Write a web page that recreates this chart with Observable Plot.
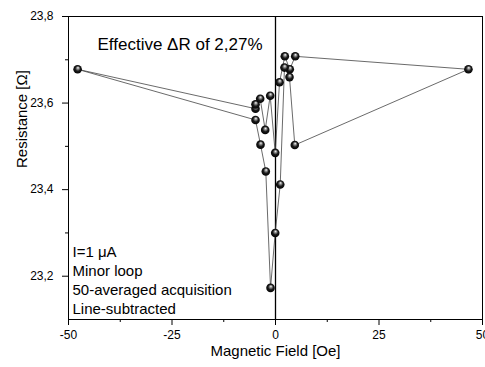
<!DOCTYPE html>
<html><head><meta charset="utf-8">
<script src="https://cdn.jsdelivr.net/npm/d3@7"></script>
<script src="https://cdn.jsdelivr.net/npm/@observablehq/plot@0.6"></script>
<style>
body{margin:0;background:#fff}
#chart svg{font-family:"Liberation Sans",Arial,sans-serif}
</style>
</head><body><div id="chart"></div>
<script>
// Loop order: upper branch from -H to +H, then lower branch back
const field = [-47.8, -4.83, -4.83, -3.7, -2.49, -1.28, -0.07, 0.97, 2.25, 3.45, 4.76, 46.6,
               4.66, 3.38, 2.17, 1.14, -0.07, -1.2, -2.34, -3.62, -4.83, -47.8];
const resistance = [23.678, 23.587, 23.597, 23.61, 23.538, 23.617, 23.485, 23.648, 23.708, 23.678, 23.708, 23.678,
                    23.503, 23.66, 23.682, 23.412, 23.30, 23.173, 23.442, 23.504, 23.561, 23.678];
const xTicks = [-50, -25, 0, 25, 50];
const xMinorTicks = [-37.5, -12.5, 12.5, 37.5];
const yTicks = [23.2, 23.4, 23.6, 23.8];
const yMinorTicks = [23.3, 23.5, 23.7];
const xLabel = "Magnetic Field [Oe]";
const yLabel = "Resistance [Ω]";
const headline = "Effective ΔR of 2,27%";
const noteLines = ["I=1 μA", "Minor loop", "50-averaged acquisition", "Line-subtracted"];

const data = field.map((x, i) => ({x, y: resistance[i]}));
const dots = data.slice(0, data.length - 1);

const chart = Plot.plot({
  width: 485, height: 367,
  marginLeft: 68, marginRight: 3, marginTop: 16, marginBottom: 48,
  x: {domain: [-50, 50]},
  y: {domain: [23.1, 23.8]},
  style: {fontFamily: '"Liberation Sans", Arial, sans-serif', fontSize: "12px", color: "#000", background: "#fff"},
  marks: [
    Plot.ruleX([0], {stroke: "#000", strokeWidth: 1.3}),
    Plot.line(data, {x: "x", y: "y", stroke: "#444", strokeWidth: 0.8}),
    Plot.dot(dots, {x: "x", y: "y", r: 4.3, fill: "url(#ball)", stroke: "none"}),
    Plot.frame({stroke: "#000", strokeWidth: 1}),
    Plot.axisX({ticks: xTicks, tickSize: 6, tickPadding: 5, tickFormat: d => String(d), label: null, fontSize: 12}),
    Plot.axisX({ticks: xMinorTicks, tickSize: 3, tickFormat: () => "", label: null}),
    Plot.axisY({ticks: yTicks, tickSize: 6, tickPadding: 9, tickFormat: d => d.toFixed(1).replace(".", ","), label: null, fontSize: 12}),
    Plot.axisY({ticks: yMinorTicks, tickSize: 3, tickFormat: () => "", label: null}),
    Plot.text([xLabel], {frameAnchor: "bottom", dy: 36, fontSize: 15, fill: "#000"}),
    Plot.text([yLabel], {frameAnchor: "left", dx: -46, rotate: -90, fontSize: 15, fill: "#000"}),
    Plot.text([headline], {frameAnchor: "top-left", dx: 29, dy: 21, fontSize: 17, fill: "#000", textAnchor: "start"}),
    ...noteLines.map((t, i) => Plot.text([t], {frameAnchor: "bottom-left", dx: 4, dy: -63 + i * 19, fontSize: 15, fill: "#000", textAnchor: "start"}))
  ]
});

const ns = "http://www.w3.org/2000/svg";
const defs = document.createElementNS(ns, "defs");
defs.innerHTML = '<radialGradient id="ball" cx="0.5" cy="0.5" r="0.55" fx="0.55" fy="0.3">' +
  '<stop offset="0" stop-color="#ffffff"/><stop offset="0.22" stop-color="#9a9a9a"/>' +
  '<stop offset="0.55" stop-color="#1a1a1a"/><stop offset="1" stop-color="#000"/></radialGradient>';
chart.insertBefore(defs, chart.firstChild);
document.getElementById("chart").appendChild(chart);
</script>
</body></html>
